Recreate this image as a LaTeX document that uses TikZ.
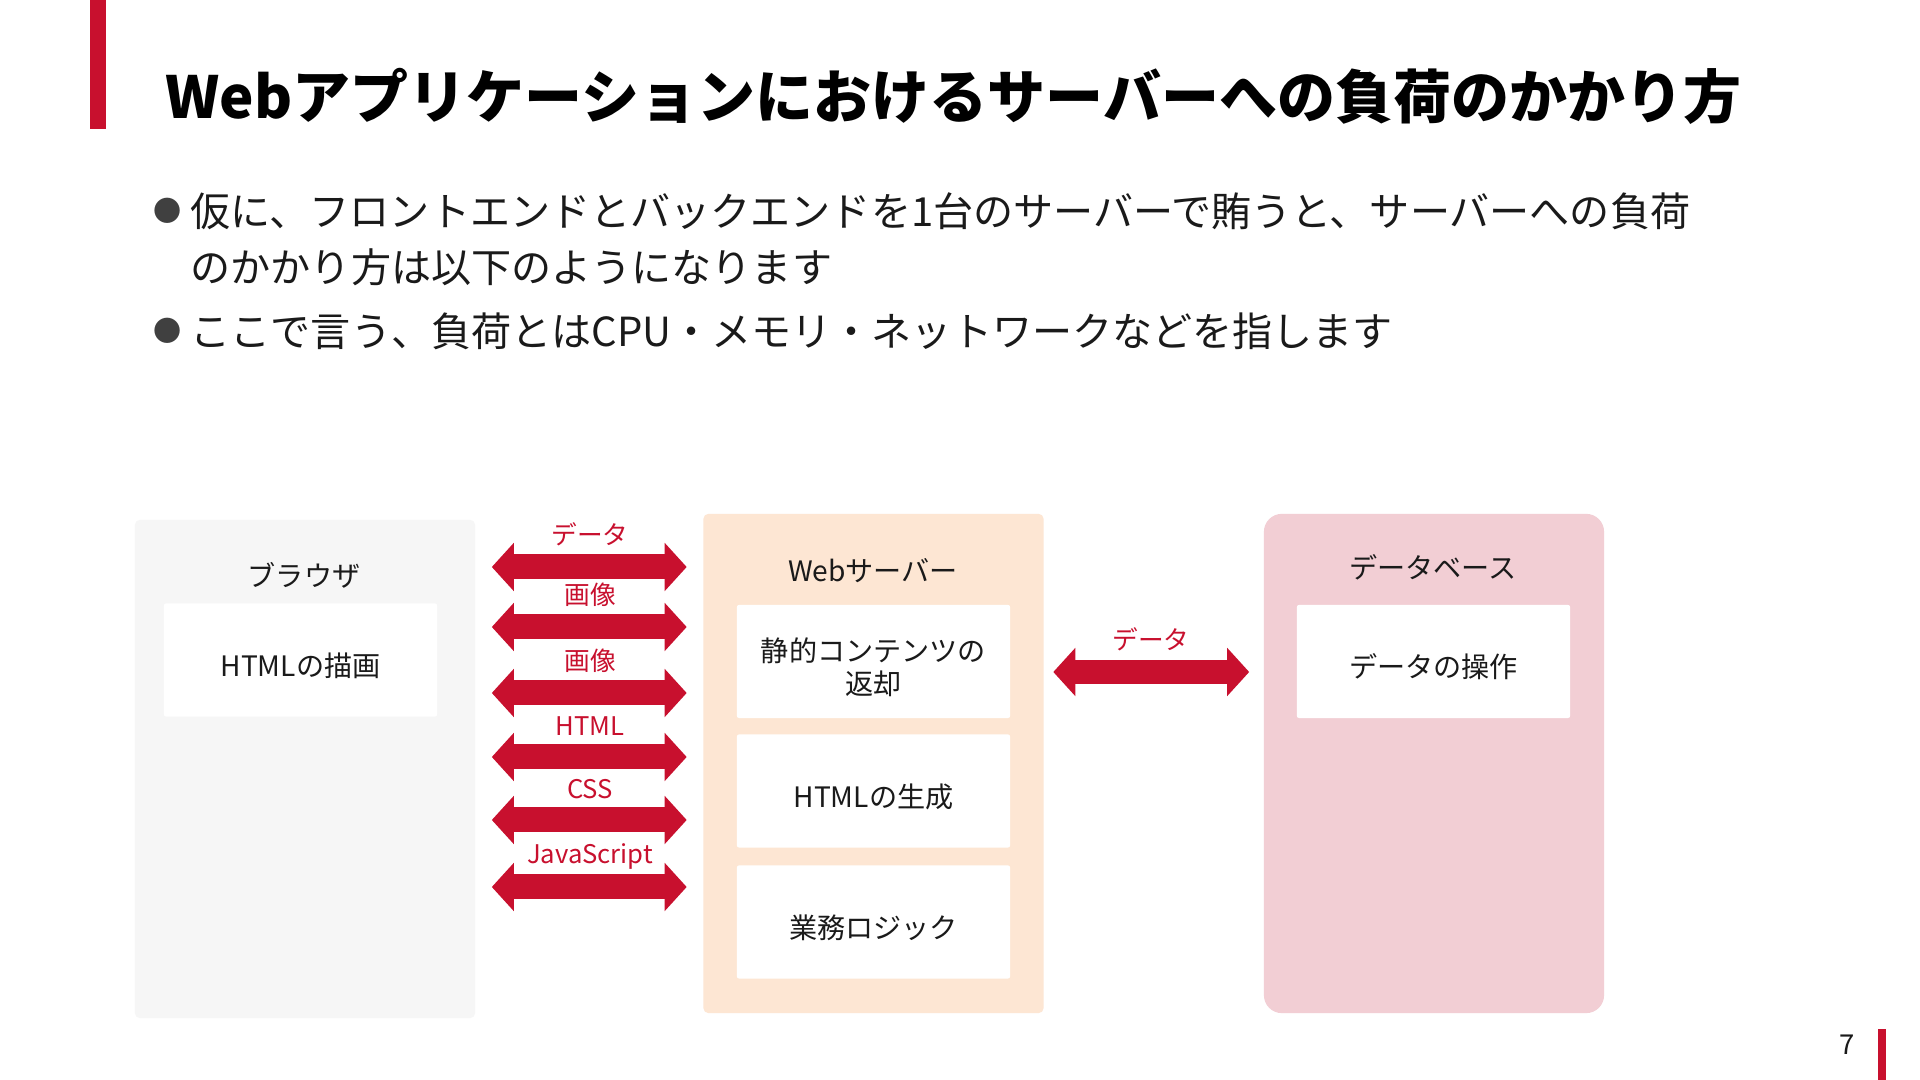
\documentclass[tikz,border=0pt]{standalone}
\usepackage{fontspec}
\setmainfont{Noto Sans CJK JP}
\usepackage{xcolor}
\usepackage{tikz}
\usetikzlibrary{arrows.meta}
\definecolor{accent}{RGB}{200,16,46}
\definecolor{browserbg}{RGB}{246,246,246}
\definecolor{webbg}{RGB}{253,230,211}
\definecolor{dbbg}{RGB}{242,206,212}
\definecolor{bodytext}{RGB}{26,26,26}
\definecolor{bulletgray}{RGB}{64,64,64}

\tikzset{
  panel/.style={minimum width=3.4cm, minimum height=4.99cm, inner sep=0pt, rounded corners=0.05cm},
  card/.style={fill=white, minimum width=2.73cm, minimum height=1.13cm, inner sep=0pt,
               rounded corners=0.02cm},
  cardtext/.style={font=\fontsize{8}{9.4}\selectfont, text=bodytext, align=center, yshift=-0.055cm},
  paneltitle/.style={font=\fontsize{8}{10}\selectfont, text=bodytext},
  flow/.style={accent, line width=0.25cm,
               {Triangle[length=0.22cm, width=0.47cm]}-{Triangle[length=0.22cm, width=0.47cm]}},
  flowlabel/.style={font=\fontsize{7.3}{9}\selectfont, text=accent},
  bodyline/.style={anchor=west, inner sep=0pt, font=\fontsize{11.4}{14}\selectfont, text=bodytext},
  bulletdot/.style={text=bulletgray, font=\fontsize{8}{10}\selectfont, inner sep=0pt},
}

\begin{document}
\begin{tikzpicture}[x=0.01cm, y=-0.01cm]
    \useasboundingbox[fill=white] (0,0) rectangle (1920,1080);

    % --- Titulo ---
    \fill[accent] (90,0) rectangle (106,129);
    \node[anchor=west, inner sep=0pt, text=black, font=\fontsize{16.5}{20}\selectfont\bfseries] (title)
      at (165,96) {Webアプリケーションにおけるサーバーへの負荷のかかり方};

    % --- Texto (bullets) ---
    \node[bulletdot] (dot1) at (168,211) {●};
    \node[bodyline] (line1) at (190,211) {仮に、フロントエンドとバックエンドを1台のサーバーで賄うと、サーバーへの負荷};
    \node[bodyline] (line2) at (190,267) {のかかり方は以下のようになります};
    \node[bulletdot] (dot2) at (168,331) {●};
    \node[bodyline] (line3) at (190,331) {ここで言う、負荷とはCPU・メモリ・ネットワークなどを指します};

    % --- Paineis ---
    \node[panel, fill=browserbg, minimum height=4.98cm] (browser) at (305,769) {};
    \node[panel, fill=webbg] (web) at (873.5,763.5) {};
    \node[panel, fill=dbbg, rounded corners=0.18cm] (db) at (1434,763.5) {};

    \node[paneltitle] (browsertitle) at (304,575) {ブラウザ};
    \node[paneltitle] (webtitle) at (873,571) {Webサーバー};
    \node[paneltitle] (dbtitle) at (1433,567) {データベース};

    % --- Caixas brancas ---
    \node[card, label={[cardtext]center:HTMLの描画}] (render) at (300.5,660) {};
    \node[card, label={[cardtext]center:静的コンテンツの\\返却}] (static) at (873.5,661.5) {};
    \node[card, label={[cardtext]center:HTMLの生成}] (gen) at (873.5,791) {};
    \node[card, label={[cardtext]center:業務ロジック}] (logic) at (873.5,922) {};
    \node[card, label={[cardtext]center:データの操作}] (dbop) at (1433.5,661.5) {};

    % --- Setas: navegador <-> servidor ---
    \foreach \y/\lbl/\ly [count=\i] in {567/データ/534, 627/画像/595, 693/画像/661,
                                        757/HTML/726, 820/CSS/789, 887/JavaScript/856} {
      \coordinate (row\i) at (0,\y);
      \draw[flow, shorten <=0.16cm, shorten >=0.16cm] (browser.east |- row\i) -- (web.west |- row\i);
      \node[flowlabel] (flow\i) at (590,\ly) {\lbl};
    }

    % --- Seta: servidor <-> banco ---
    \coordinate (rowdb) at (0,672);
    \draw[flow, line width=0.24cm, shorten <=0.09cm, shorten >=0.14cm] (web.east |- rowdb) -- (db.west |- rowdb);
    \node[flowlabel] (dbflow) at (1151,639) {データ};

    % --- Numero da pagina ---
    \node[font=\fontsize{7.8}{9}\selectfont, text=bodytext] (pageno) at (1847,1045) {7};
    \fill[accent] (1878,1029) rectangle (1886,1080);
\end{tikzpicture}
\end{document}
